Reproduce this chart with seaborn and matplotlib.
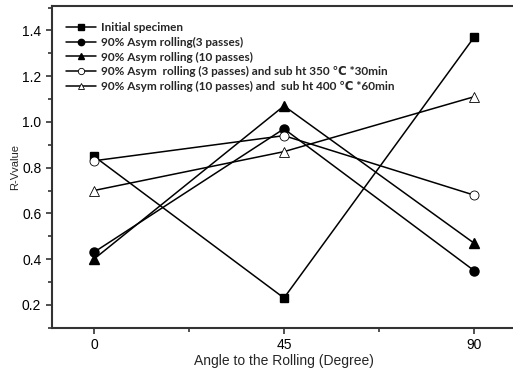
import matplotlib
matplotlib.use("Agg")
import matplotlib.pyplot as plt
from matplotlib.ticker import MultipleLocator
import numpy as np
import pandas as pd
import seaborn as sns

# data
angles = [0, 45, 90]
initial_specimen = [0.85, 0.23, 1.37]
asym_3 = [0.43, 0.97, 0.35]
asym_10 = [0.40, 1.07, 0.47]
asym_3_ht = [0.83, 0.94, 0.68]
asym_10_ht = [0.70, 0.87, 1.11]

labels = [
    "Initial specimen",
    "90% Asym rolling(3 passes)",
    "90% Asym rolling (10 passes)",
    "90% Asym  rolling (3 passes) and sub ht 350 \u2103 *30min",
    "90% Asym rolling (10 passes) and  sub ht 400 \u2103 *60min",
]
series = [initial_specimen, asym_3, asym_10, asym_3_ht, asym_10_ht]
markers = ["s", "o", "^", "o", "^"]
faces = ["black", "black", "black", "white", "white"]

sns.set_style("ticks")
plt.rcParams['font.family'] = ['Liberation Sans', 'DejaVu Sans']

fig = plt.figure(figsize=(5.13, 3.70), dpi=100)
ax = fig.add_axes([0.1008, 0.1143, 0.9055, 0.8695])

for vals, lab, mk, fc in zip(series, labels, markers, faces):
    df = pd.DataFrame({"angle": angles, "r": vals})
    sns.lineplot(data=df, x="angle", y="r", ax=ax, color="black", linewidth=1.1,
                 marker=mk, markersize=6.5 if mk != "s" else 5.5,
                 markerfacecolor=fc, markeredgecolor="black",
                 markeredgewidth=0.6 if fc == "white" else 1.0, label=lab)

ax.set_xlim(-10, 100)
ax.set_ylim(0.1, 1.507)
ax.set_xticks([0, 45, 90])
ax.xaxis.set_minor_locator(MultipleLocator(22.5))
ax.set_yticks([0.2, 0.4, 0.6, 0.8, 1.0, 1.2, 1.4])
ax.yaxis.set_minor_locator(MultipleLocator(0.1))
ax.tick_params(which="major", direction="out", length=4, width=1.2, labelsize=10, colors="#333333")
ax.tick_params(which="minor", direction="out", length=3, width=1.2, colors="#333333")
ax.tick_params(labelcolor="black")
for s in ax.spines.values():
    s.set_linewidth(1.5)
    s.set_color("#333333")

ax.set_xlabel("Angle to the Rolling (Degree)", fontsize=10, labelpad=1)
ax.set_ylabel("R-Vvalue", fontsize=8, labelpad=1)

leg = ax.legend(loc="upper left", bbox_to_anchor=(0.02, 0.965), frameon=False,
                handlelength=2.6, handletextpad=0.4, labelspacing=0.32, borderaxespad=0,
                markerscale=0.7,
                prop={'family': ['Lato', 'DejaVu Sans'], 'weight': 'bold', 'size': 8.5})

fig.savefig("out.png", dpi=100)
